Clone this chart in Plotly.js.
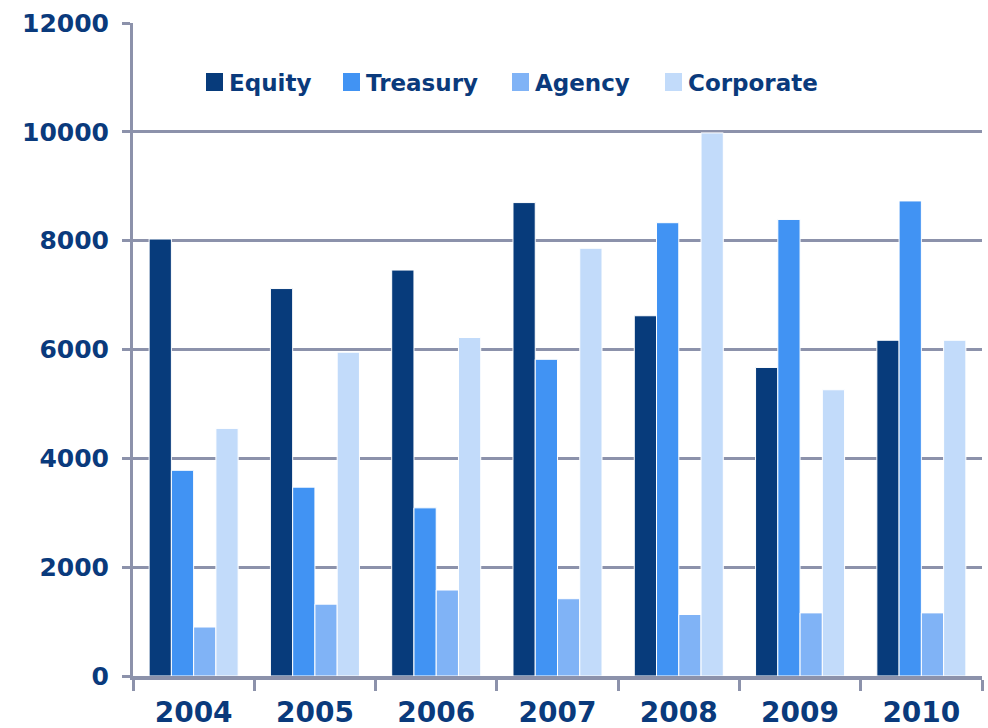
<!DOCTYPE html>
<html>
<head>
<meta charset="utf-8">
<script src="https://cdn.plot.ly/plotly-3.0.1.min.js"></script>
<style>html,body{margin:0;padding:0;background:#fff;}#chart{width:988px;height:728px;}</style>
</head>
<body>
<div id="chart"></div>
<script>
const years = ['2004', '2005', '2006', '2007', '2008', '2009', '2010'];
const seriesNames = ['Equity', 'Treasury', 'Agency', 'Corporate'];
const equity = [8030, 7120, 7460, 8700, 6620, 5670, 6170];
const treasury = [3780, 3470, 3090, 5820, 8330, 8390, 8730];
const agency = [900, 1320, 1580, 1420, 1130, 1160, 1160];
const corporate = [4550, 5950, 6220, 7860, 9980, 5260, 6170];
const yTicks = [0, 2000, 4000, 6000, 8000, 10000, 12000];

const colors = ['#073B7B', '#4193F3', '#80B3F6', '#C2DBFA'];
const values = [equity, treasury, agency, corporate];
const textColor = '#0A3A7C';
const gridColor = '#8C92AB';
const font = 'DejaVu Sans, Verdana, sans-serif';

const W = 988, H = 728;
const margin = {l: 133, r: 6, t: 23, b: 52};
const plotW = W - margin.l - margin.r;
const plotH = H - margin.t - margin.b;
const px2x = p => (p - margin.l) / plotW;
const px2y = p => (H - margin.b - p) / plotH;

const traces = seriesNames.map((name, i) => ({
  type: 'bar',
  name: name,
  x: years,
  y: values[i],
  marker: {color: colors[i], line: {color: '#ffffff', width: 1}},
  showlegend: false,
  hoverinfo: 'x+y+name'
}));

// custom legend (square + label)
const legendSquareLeft = [206, 343, 512, 665];
const shapes = [];
const annotations = [];
seriesNames.forEach((name, i) => {
  const x0 = legendSquareLeft[i];
  shapes.push({
    type: 'rect', xref: 'paper', yref: 'paper',
    x0: px2x(x0), x1: px2x(x0 + 17),
    y0: px2y(91), y1: px2y(73),
    fillcolor: colors[i], line: {width: 0}
  });
  annotations.push({
    xref: 'paper', yref: 'paper',
    x: px2x(x0 + 21), y: px2y(83),
    xanchor: 'left', yanchor: 'middle',
    text: name, showarrow: false,
    font: {family: font, size: 23, color: textColor, weight: 'bold'}
  });
});

const layout = {
  width: W, height: H,
  margin: margin,
  paper_bgcolor: '#ffffff',
  plot_bgcolor: '#ffffff',
  barmode: 'group',
  bargap: 0.266,
  bargroupgap: 0,
  showlegend: false,
  xaxis: {
    type: 'category',
    tickson: 'boundaries',
    ticks: 'outside',
    ticklen: 11,
    tickwidth: 3,
    tickcolor: gridColor,
    showline: true,
    linecolor: gridColor,
    linewidth: 4,
    showgrid: false,
    zeroline: false,
    ticklabelstandoff: 8,
    tickfont: {family: font, size: 28, color: textColor, weight: 'bold'}
  },
  yaxis: {
    range: [0, 12000],
    tickvals: yTicks,
    ticktext: yTicks.map(String),
    ticks: 'outside',
    ticklen: 8,
    tickwidth: 3,
    tickcolor: gridColor,
    showline: true,
    linecolor: gridColor,
    linewidth: 3,
    showgrid: true,
    gridcolor: gridColor,
    gridwidth: 3,
    zeroline: false,
    ticklabelstandoff: 8,
    tickfont: {family: font, size: 25, color: textColor, weight: 'bold'}
  },
  shapes: shapes,
  annotations: annotations
};

Plotly.newPlot('chart', traces, layout, {displayModeBar: false, staticPlot: true});
</script>
</body>
</html>
